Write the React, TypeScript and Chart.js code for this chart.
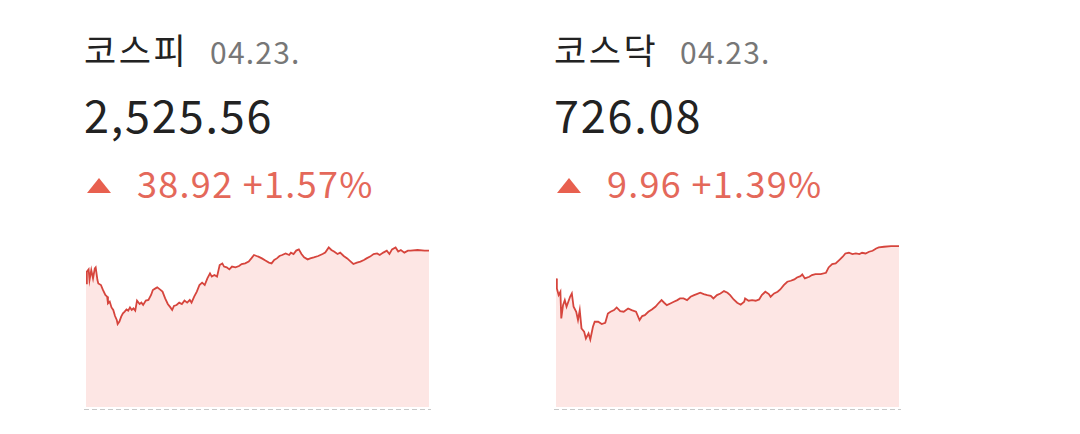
import React, { useEffect, useRef } from "react";
import { Chart, registerables } from "chart.js";

Chart.register(...registerables);

// KOSPI intraday (minutes after 09:00, index value)
const kospiTimes = [0,1,3,4,6,8,10,11,13,14,17,19,22,24,25,27,29,31,33,35,36,38,40,42,44,46,48,50,52,54,56,58,61,63,65,68,71,74,76,79,81,84,87,90,93,96,98,100,103,106,109,112,115,118,120,123,126,129,132,135,138,141,143,146,149,152,155,157,160,163,166,170,174,177,181,185,188,191,194,196,200,204,208,211,214,217,220,223,227,231,233,236,239,242,245,248,252,255,259,264,269,272,276,279,282,286,289,293,297,301,304,308,312,316,319,323,327,331,334,338,342,345,348,352,355,358,362,366,369,377,385,390];
const kospiValues = [2509.2,2515.1,2516.2,2510.9,2515.9,2511.7,2516.7,2517.2,2510.9,2509.2,2508.4,2506.2,2503.4,2502.6,2499.2,2500.1,2497.2,2495.9,2492.9,2490.9,2488.9,2490.1,2492.6,2494.2,2495.1,2496.2,2495.6,2497.2,2495.9,2496.7,2495.6,2500.6,2498.9,2499.6,2498.4,2500.6,2500.9,2503.4,2505.9,2506.7,2507.2,2506.2,2505.1,2501.7,2498.9,2497.2,2495.9,2497.9,2498.4,2499.6,2498.9,2500.6,2499.6,2500.9,2499.6,2502.6,2505.1,2508.4,2509.6,2508.4,2511.7,2514.2,2512.6,2513.4,2512.6,2518.4,2519.2,2517.6,2517.2,2516.2,2517.6,2517.2,2517.9,2518.9,2519.2,2520.1,2521.7,2523.4,2522.9,2522.6,2521.7,2520.6,2519.6,2519.2,2520.9,2521.7,2522.9,2523.4,2524.2,2523.4,2524.6,2523.9,2525.6,2526.2,2523.9,2522.2,2521.2,2521.7,2522.2,2522.9,2523.9,2524.6,2527.2,2525.9,2525.1,2523.9,2524.6,2522.9,2521.7,2520.1,2518.9,2519.6,2520.1,2520.9,2521.7,2522.6,2523.9,2524.2,2523.4,2524.6,2525.6,2523.9,2526.2,2527.2,2525.1,2525.9,2524.6,2525.6,2525.6,2525.9,2525.6,2525.56];

// KOSDAQ intraday
const kosdaqTimes = [0,1,3,5,6,8,10,12,14,16,18,20,23,25,27,29,32,34,37,39,42,44,48,52,56,59,62,66,69,73,77,82,86,91,95,98,101,105,109,113,117,120,123,126,130,134,138,141,145,149,153,157,160,164,168,172,176,179,183,187,191,195,198,202,206,210,214,215,219,223,227,231,234,238,242,244,248,252,255,259,263,267,271,274,278,280,283,288,291,295,301,307,310,314,318,322,326,329,333,337,341,345,348,352,356,360,364,367,373,381,390];
const kosdaqValues = [719.61,717.61,716.28,716.95,711.61,714.28,715.28,713.95,714.95,715.95,716.61,713.95,712.95,711.28,713.28,709.61,708.95,707.61,708.61,707.41,709.95,710.95,710.95,710.48,710.75,712.61,712.95,713.28,713.81,713.08,712.95,713.61,713.28,712.95,711.28,712.08,712.28,712.95,713.41,713.95,714.75,715.28,714.75,714.28,714.61,714.95,715.28,715.61,715.61,715.28,715.95,716.28,716.48,716.75,716.48,716.28,716.15,715.61,716.28,716.61,717.08,716.75,716.28,715.41,714.75,714.35,714.95,715.61,715.15,715.28,715.15,715.41,716.28,716.95,716.48,715.95,716.61,716.95,717.41,718.28,718.95,719.15,719.41,719.81,720.08,720.41,719.61,719.95,720.28,720.48,720.48,720.75,721.81,722.48,722.61,723.28,723.95,724.61,724.75,724.48,724.61,724.48,724.75,724.61,724.95,725.15,725.61,725.81,725.95,726.08,726.08];

const kospiRange = [2447.4, 2530.9];
const kosdaqRange = [693.9, 727.3];

const indexNames = ["코스피", "코스닥"];
const dates = ["04.23.", "04.23."];
const closes = ["2,525.56", "726.08"];
const changes = ["38.92 +1.57%", "9.96 +1.39%"];

const RED_TEXT = "#e4685a";
const LINE = "#d6453d";
const FILL = "#fde6e4";
const FONT = "'Noto Sans CJK KR', 'Noto Sans', sans-serif";

const dashPlugin = {
  id: "baseDash",
  afterDraw(chart: any) {
    const { ctx, chartArea, width } = chart;
    ctx.save();
    ctx.strokeStyle = "#c8c8c8";
    ctx.lineWidth = 1;
    ctx.setLineDash([5, 3]);
    ctx.beginPath();
    const y = chartArea.bottom + 2.5;
    ctx.moveTo(0, y);
    ctx.lineTo(width, y);
    ctx.stroke();
    ctx.restore();
  },
};

function Spark({ times, values, range }: { times: number[]; values: number[]; range: number[] }) {
  const ref = useRef<HTMLCanvasElement>(null);
  useEffect(() => {
    if (!ref.current) return;
    const chart = new Chart(ref.current, {
      type: "line",
      data: {
        datasets: [
          {
            data: times.map((t, i) => ({ x: t, y: values[i] })),
            borderColor: LINE,
            borderWidth: 1.8,
            backgroundColor: FILL,
            fill: "start",
            pointRadius: 0,
            tension: 0,
          },
        ],
      },
      options: {
        animation: false,
        responsive: false,
        devicePixelRatio: 1,
        layout: { padding: { left: 2, right: 2, top: 0, bottom: 5 } },
        plugins: { legend: { display: false }, tooltip: { enabled: false } },
        scales: {
          x: { type: "linear", min: 0, max: 390, display: false },
          y: { min: range[0], max: range[1], display: false },
        },
      },
      plugins: [dashPlugin],
    });
    return () => chart.destroy();
  }, []);
  return <canvas ref={ref} width={347} height={172} style={{ display: "block", width: 347, height: 172 }} />;
}

function Block({ i, left, times, values, range }: any) {
  return (
    <div style={{ position: "absolute", left, top: 0, width: 420, height: 434 }}>
      <div style={{ position: "absolute", left: 0, top: 31, whiteSpace: "nowrap", fontFamily: FONT, lineHeight: 1 }}>
        <span style={{ fontSize: 35, color: "#222", fontWeight: 400, letterSpacing: 2.5 }}>{indexNames[i]}</span>
        <span style={{ fontSize: 30, color: "#777", marginLeft: 22, letterSpacing: 1.2 }}>{dates[i]}</span>
      </div>
      <div style={{ position: "absolute", left: 0, top: 91, fontSize: 45, color: "#222", fontFamily: FONT, lineHeight: 1, whiteSpace: "nowrap", letterSpacing: 1.8 }}>
        {closes[i]}
      </div>
      <div style={{ position: "absolute", left: 0, top: 164, whiteSpace: "nowrap", fontFamily: FONT, lineHeight: 1, color: RED_TEXT }}>
        <span style={{ display: "inline-block", width: 0, height: 0, borderLeft: "12.5px solid transparent", borderRight: "12.5px solid transparent", borderBottom: "15px solid #e8604f", marginLeft: 3, marginRight: 26, verticalAlign: "middle", position: "relative", top: -8 }} />
        <span style={{ fontSize: 36, letterSpacing: 1.3 }}>{changes[i]}</span>
      </div>
      <div style={{ position: "absolute", left: 0, top: 240 }}>
        <Spark times={times} values={values} range={range} />
      </div>
    </div>
  );
}

export default function App() {
  return (
    <div style={{ position: "absolute", left: 0, top: 0, width: 1080, height: 434, background: "#fff", overflow: "hidden" }}>
      <Block i={0} left={84} times={kospiTimes} values={kospiValues} range={kospiRange} />
      <Block i={1} left={554} times={kosdaqTimes} values={kosdaqValues} range={kosdaqRange} />
    </div>
  );
}
